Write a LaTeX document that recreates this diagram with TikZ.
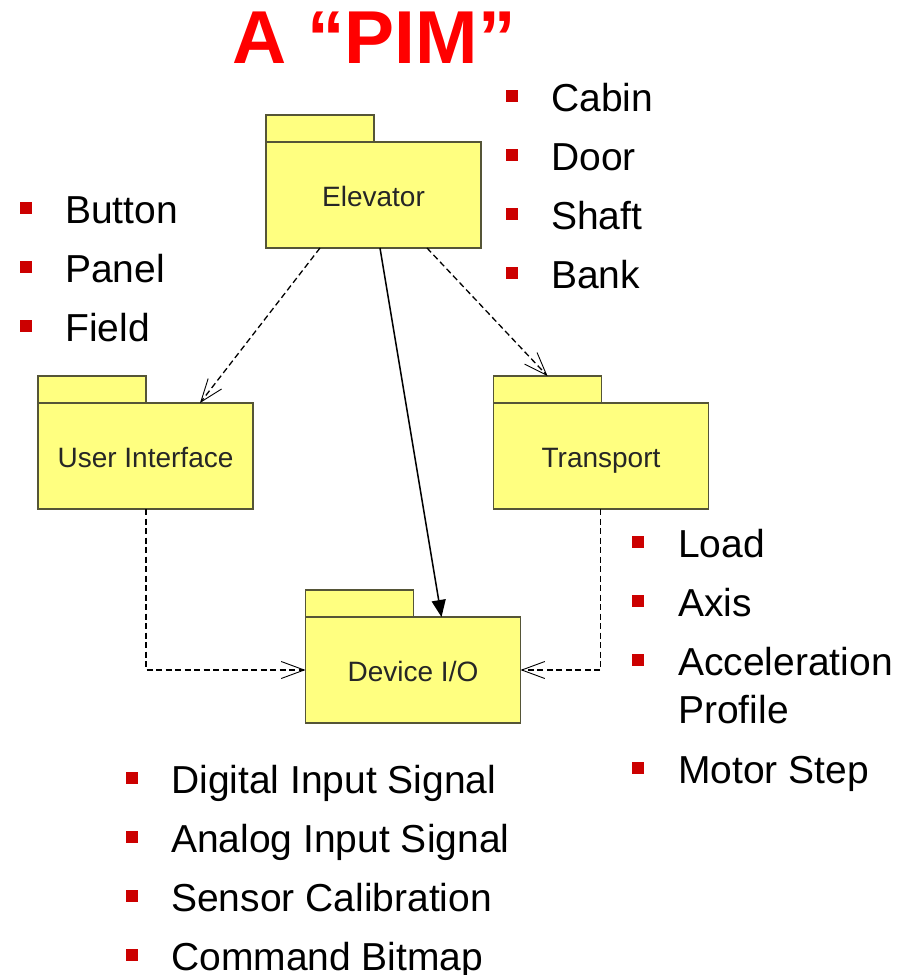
\documentclass[tikz,border=0pt]{standalone}
\usepackage{fontspec}
\setmainfont{Liberation Sans}
\usetikzlibrary{arrows.meta,positioning}
\definecolor{pkgfill}{RGB}{255,255,128}
\definecolor{pkgline}{RGB}{85,85,55}
\definecolor{bulletred}{RGB}{204,0,0}

\begin{document}
\begin{tikzpicture}[x=1pt,y=-1pt,pkg/.style={draw=pkgline, fill=pkgfill, line width=1.2pt, outer sep=0pt, inner sep=0pt, minimum width=215pt, minimum height=106pt, text height=24pt, text depth=2pt, font=\fontsize{28}{32}\selectfont, text=black!85},pkgtab/.style={draw=pkgline, fill=pkgfill, line width=1.2pt, outer sep=0pt, inner sep=0pt, minimum width=108pt, minimum height=27pt, anchor=south west},dep/.style={line width=1.3pt, dash pattern=on 6pt off 3.5pt, -{Straight Barb[length=23pt,width=17pt,line width=0.9pt]}},assoc/.style={line width=1.5pt, -{Triangle[length=17pt,width=14pt]}},bul/.style={fill=bulletred, minimum size=12pt, inner sep=0pt},item/.style={anchor=base west, align=left, inner sep=0pt, font=\fontsize{39}{48}\selectfont},title/.style={anchor=base, text=red, font=\fontsize{75}{80}\selectfont\bfseries}]
\useasboundingbox (0,0) rectangle (906,975);
\node[title] (pimtitle) at (374,63) {A “PIM”};
% packages
\node[pkg] (elevator) at (373.5,195) {Elevator};
\node[pkgtab] (elevatortab) at (elevator.north west) {};
\node[pkg] (userif) at (145.5,456) {User Interface};
\node[pkgtab] (useriftab) at (userif.north west) {};
\node[pkg] (transport) at (601,456) {Transport};
\node[pkgtab] (transporttab) at (transport.north west) {};
\node[pkg] (deviceio) at (413,670) {Device I/O};
\node[pkgtab] (deviceiotab) at (deviceio.north west) {};
% dependencies
\draw[dep] ([xshift=54pt]elevator.south west) -- ([xshift=162pt]userif.north west);
\draw[dep] ([xshift=161pt]elevator.south west) -- ([xshift=54pt]transporttab.north west);
\draw[assoc] ([xshift=114pt]elevator.south west) -- ([xshift=136pt]deviceio.north west);
\draw[dep] ([xshift=108pt]userif.south west) |- (deviceio.west);
\draw[dep] ([xshift=107pt]transport.south west) |- (deviceio.east);
% class lists
\foreach \y/\t in {223/Button,282/Panel,341/Field} {\node[bul] (lbul\y) at (26,\y-15) {}; \node[item] (litem\y) at (65,\y) {\t};}
\foreach \y/\t in {111/Cabin,170/Door,229/Shaft,288/Bank} {\node[bul] (tbul\y) at (512,\y-15) {}; \node[item] (titem\y) at (551,\y) {\t};}
\foreach \y/\b/\t in {557/557/Load,616/616/Axis,723/675/{Acceleration\\Profile},783/783/Motor Step} {\node[bul] (rbul\b) at (638,\b-15) {}; \node[item] (ritem\b) at (678,\y) {\t};}
\foreach \y/\t in {793/Digital Input Signal,852/Analog Input Signal,911/Sensor Calibration,970/Command Bitmap} {\node[bul] (bbul\y) at (132,\y-15) {}; \node[item] (bitem\y) at (171,\y) {\t};}
\end{tikzpicture}
\end{document}
